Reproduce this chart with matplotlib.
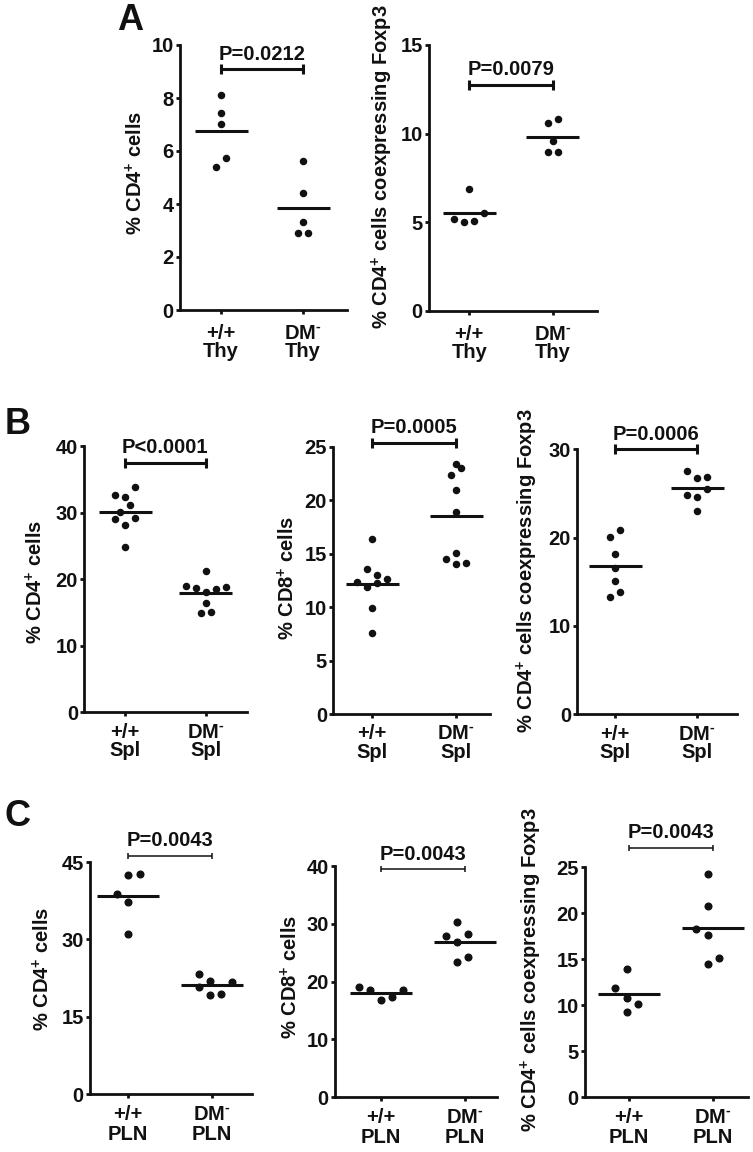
import numpy as np
import matplotlib
matplotlib.use( 'Agg' )
import matplotlib.pyplot as plt

# ---- data ----
# A: thymus
thyCd4Wt = [ 8.13, 7.42, 7.02, 5.74, 5.41 ]
thyCd4Dm = [ 5.61, 4.40, 3.33, 2.92, 2.92 ]
thyFoxWt = [ 6.89, 5.18, 5.02, 5.08, 5.53 ]
thyFoxDm = [ 10.61, 10.82, 9.60, 8.98, 8.98 ]

# B: spleen
splCd4Wt = [ 33.79, 32.64, 32.38, 31.18, 30.13, 28.99, 29.23, 28.13, 24.83 ]
splCd4Dm = [ 21.27, 18.92, 18.71, 18.11, 18.52, 18.77, 16.42, 14.96, 15.02 ]
splCd8Wt = [ 16.40, 13.56, 13.00, 12.38, 12.63, 11.88, 12.23, 9.94, 7.61 ]
splCd8Dm = [ 23.39, 23.01, 22.33, 20.95, 18.90, 15.03, 14.47, 14.03, 14.15 ]
splFoxWt = [ 20.83, 20.11, 18.18, 16.56, 15.09, 13.81, 13.31 ]
splFoxDm = [ 27.54, 26.72, 26.83, 25.51, 24.83, 24.60, 23.02 ]

# C: peripheral lymph nodes
plnCd4Wt = [ 42.47, 42.67, 38.74, 37.30, 31.05 ]
plnCd4Dm = [ 23.24, 22.00, 21.69, 20.78, 19.29, 19.47 ]
plnCd8Wt = [ 19.02, 18.55, 16.83, 17.40, 18.55 ]
plnCd8Dm = [ 30.26, 27.94, 28.19, 26.80, 24.31, 23.34 ]
plnFoxWt = [ 13.91, 11.85, 10.83, 10.17, 9.24 ]
plnFoxDm = [ 24.27, 20.79, 18.29, 17.64, 14.49, 15.11 ]

thyLabels = [ '+/+\nThy', 'DM$^{\\text{-}}$\nThy' ]
splLabels = [ '+/+\nSpl', 'DM$^{\\text{-}}$\nSpl' ]
plnLabels = [ '+/+\nPLN', 'DM$^{\\text{-}}$\nPLN' ]

cd4Label = '% CD4$^{+}$ cells'
cd8Label = '% CD8$^{+}$ cells'
foxLabel = '% CD4$^{+}$ cells coexpressing Foxp3'

# ---- layout only ----
W, H = 753.0, 1152.0
INK = '#111111'
FS = 14.5

# horizontal spread of dots, in half-dot steps
thyCd4Jit = ( [ 0, 0, 0, 1, -1 ], [ 0, 0, 0, -1, 1 ] )
thyFoxJit = ( [ 0, -3, -1, 1, 3 ], [ -1, 1, 0, -1, 1 ] )
splCd4Jit = ( [ 2, -2, 0, 1, -1, -2, 2, 0, 0 ], [ 0, -4, -2, 0, 2, 4, 0, -1, 1 ] )
splCd8Jit = ( [ 0, -1, 1, -3, 3, -1, 1, 0, 0 ], [ 0, 1, -1, 0, 0, 0, -2, 0, 2 ] )
splFoxJit = ( [ 1, -1, 0, 0, 0, 1, -1 ], [ -2, 0, 2, 2, -2, 0, 0 ] )
plnCd4Jit = ( [ 0, 2.2, -2, 0, 0 ], [ -2.3, -0.3, 3.7, -2.3, -0.3, 1.7 ] )
plnCd8Jit = ( [ -4, -2, 0, 2, 4 ], [ -1.5, -3.5, 0.5, -1.5, 0.5, -1.5 ] )
plnFoxJit = ( [ -0.5, -2.6, -0.5, 1.6, -0.5 ], [ -1, -1, -3.2, -1, -1, 1 ] )

# pixel boxes: y-axis x, x-axis end, top value y, zero y, category 0 x, category 1 x
styleAB = dict( step=5.0, half=26.5, ms=4.4, blw=2.2, cap=7.5, lsp=0.95 )
styleC = dict( step=5.5, half=31.0, ms=4.8, blw=1.1, cap=5.0, lsp=1.1 )

panels = [
	( ( 180.0, 347.0, 45.0, 310.0, 221.0, 303.0 ), thyCd4Wt, thyCd4Dm, thyCd4Jit, 10, 2, cd4Label, thyLabels, 'P=0.0212', 9.08, ( 136, 173 ), 7.0, styleAB ),
	( ( 429.0, 597.0, 45.0, 310.7, 469.3, 552.7 ), thyFoxWt, thyFoxDm, thyFoxJit, 15, 5, foxLabel, thyLabels, 'P=0.0079', 12.74, ( 382, 167 ), 7.0, styleAB ),
	( ( 84.3, 246.7, 446.0, 712.3, 125.0, 205.7 ), splCd4Wt, splCd4Dm, splCd4Jit, 40, 10, cd4Label, splLabels, 'P<0.0001', 37.5, ( 36, 582 ), 4.5, styleAB ),
	( ( 333.3, 490.0, 446.7, 714.0, 372.3, 456.0 ), splCd8Wt, splCd8Dm, splCd8Jit, 25, 5, cd8Label, splLabels, 'P=0.0005', 25.38, ( 288, 578 ), 4.5, styleAB ),
	( ( 577.3, 736.7, 449.3, 714.3, 615.0, 697.3 ), splFoxWt, splFoxDm, splFoxJit, 30, 10, foxLabel, splLabels, 'P=0.0006', 30.0, ( 527, 571 ), 4.5, styleAB ),
	( ( 90.0, 251.7, 862.0, 1094.3, 127.7, 211.7 ), plnCd4Wt, plnCd4Dm, plnCd4Jit, 45, 15, cd4Label, plnLabels, 'P=0.0043', 46.2, ( 43, 969 ), 4.5, styleC ),
	( ( 335.0, 497.0, 866.0, 1097.3, 381.0, 465.0 ), plnCd8Wt, plnCd8Dm, plnCd8Jit, 40, 10, cd8Label, plnLabels, 'P=0.0043', 39.4, ( 291, 977 ), 4.5, styleC ),
	( ( 585.0, 748.3, 867.3, 1097.3, 629.3, 713.3 ), plnFoxWt, plnFoxDm, plnFoxJit, 25, 5, foxLabel, plnLabels, 'P=0.0043', 27.1, ( 531, 970 ), 4.5, styleC ),
]

letters = [ ( 'A', 130, 21 ), ( 'B', 18, 424 ), ( 'C', 17, 817 ) ]

plt.rcParams[ 'font.family' ] = [ 'Liberation Sans', 'DejaVu Sans' ]
plt.rcParams[ 'font.weight' ] = 'bold'
plt.rcParams[ 'mathtext.fontset' ] = 'custom'
plt.rcParams[ 'mathtext.rm' ] = 'Liberation Sans:bold'
plt.rcParams[ 'mathtext.bf' ] = 'Liberation Sans:bold'
plt.rcParams[ 'mathtext.it' ] = 'Liberation Sans:bold'
plt.rcParams[ 'mathtext.default' ] = 'rm'


def figPos( x, y ):
	return x / W, 1 - y / H


def drawPanel( fig, box, wt, dm, jit, ymax, ystep, ylabel, xlabels, ptext, bracketY, labelPos, xpad, st ):
	left, right, top, bottom, c0, c1 = box
	sp = c1 - c0
	ax = fig.add_axes( [ left / W, 1 - bottom / H, ( right - left ) / W, ( bottom - top ) / H ] )
	ax.set_xlim( ( left - c0 ) / sp, ( right - c0 ) / sp )
	ax.set_ylim( 0, ymax )

	step = st[ 'step' ] / sp
	half = st[ 'half' ] / sp
	for i, ( vals, j ) in enumerate( zip( ( wt, dm ), jit ) ):
		vals = np.array( vals )
		ax.plot( i + np.array( j ) * step, vals, 'o', ms=st[ 'ms' ], color=INK, mec=INK, clip_on=False, zorder=3 )
		m = vals.mean( )
		ax.plot( [ i - half, i + half ], [ m, m ], color=INK, lw=2.2, solid_capstyle='butt', clip_on=False )

	# significance bracket
	ax.plot( [ 0, 1 ], [ bracketY, bracketY ], color=INK, lw=st[ 'blw' ], marker='|',
		ms=st[ 'cap' ], mew=st[ 'blw' ], solid_capstyle='butt', clip_on=False )
	ax.annotate( ptext, xy=( 0.5, bracketY ), xytext=( 0, 7 ), textcoords='offset points',
		ha='center', va='baseline', fontsize=FS, fontweight='bold', color=INK, annotation_clip=False )

	for s in [ 'top', 'right' ]:
		ax.spines[ s ].set_visible( False )
	for s in [ 'left', 'bottom' ]:
		ax.spines[ s ].set_linewidth( 2.0 )
		ax.spines[ s ].set_color( INK )

	ax.set_yticks( np.arange( 0, ymax + 1, ystep ) )
	ax.set_xticks( [ 0, 1 ] )
	ax.set_xticklabels( xlabels, linespacing=st[ 'lsp' ] )
	ax.tick_params( axis='y', length=3, width=2, pad=1.5, labelsize=FS, color=INK, labelcolor=INK )
	ax.tick_params( axis='x', length=3, width=2, pad=xpad, labelsize=FS, color=INK, labelcolor=INK )
	ax.patch.set_alpha( 0 )

	x, y = figPos( *labelPos )
	fig.text( x, y, ylabel, rotation=90, ha='center', va='center', fontsize=FS, fontweight='bold', color=INK )
	return ax


fig = plt.figure( figsize=( W / 100, H / 100 ), dpi=100 )
for p in panels:
	drawPanel( fig, *p )

for txt, lx, ly in letters:
	x, y = figPos( lx, ly )
	fig.text( x, y, txt, ha='center', va='center', fontsize=26, fontweight='bold', color=INK )

fig.savefig( 'out.png', dpi=100 )
